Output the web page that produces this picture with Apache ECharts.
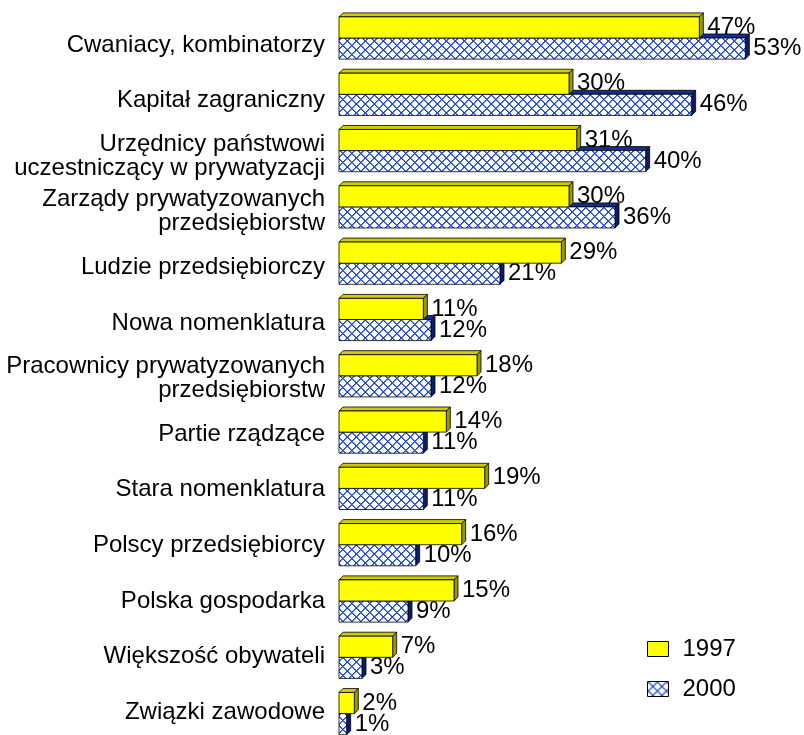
<!DOCTYPE html>
<html>
<head>
<meta charset="utf-8">
<script src="https://cdn.jsdelivr.net/npm/echarts@6/dist/echarts.min.js"></script>
<style>
html,body{margin:0;padding:0;background:#fff;}
#chart{width:804px;height:735px;}
</style>
</head>
<body>
<div id="chart"></div>
<script>
const categories = [
  'Cwaniacy, kombinatorzy',
  'Kapitał zagraniczny',
  'Urzędnicy państwowi\nuczestniczący w prywatyzacji',
  'Zarządy prywatyzowanych\nprzedsiębiorstw',
  'Ludzie przedsiębiorczy',
  'Nowa nomenklatura',
  'Pracownicy prywatyzowanych\nprzedsiębiorstw',
  'Partie rządzące',
  'Stara nomenklatura',
  'Polscy przedsiębiorcy',
  'Polska gospodarka',
  'Większość obywateli',
  'Związki zawodowe'
];
const seriesNames = ['1997', '2000'];
const values1997 = [47, 30, 31, 30, 29, 11, 18, 14, 19, 16, 15, 7, 2];
const values2000 = [53, 46, 40, 36, 21, 12, 12, 11, 11, 10, 9, 3, 1];

const FONT = '"Liberation Sans", Arial, sans-serif';
const FS = 24;

// crisp crosshatch pattern (pixel based)
function makePattern() {
  const N = 9;
  const c = document.createElement('canvas');
  c.width = N; c.height = N;
  const g = c.getContext('2d');
  g.fillStyle = '#ffffff';
  g.fillRect(0, 0, N, N);
  for (let y = 0; y < N; y++) {
    for (let x = 0; x < N; x++) {
      const a = ((x - y) % N + N) % N;
      const b = (x + y) % N;
      if (a === 0 || b === 0) {
        g.fillStyle = '#1a46d6';
        g.fillRect(x, y, 1, 1);
      } else if (a === 1 || b === 1) {
        g.fillStyle = 'rgba(26,70,214,0.7)';
        g.fillRect(x, y, 1, 1);
      }
    }
  }
  return c;
}
const hatch = { image: makePattern(), repeat: 'repeat' };

function makeRender(side, faceFill, topFill, sideFill) {
  return function (params, api) {
    const v = api.value(0), c = api.value(1);
    const p0 = api.coord([0, c]);
    const p1 = api.coord([v, c]);
    const band = api.size([0, 1])[1];
    const h = band * 0.375;
    const yc = p0[1];
    const y = side === 0 ? yc - h : yc;
    const x0 = p0[0], x1 = p1[0], d = 4;
    return {
      type: 'group',
      children: [
        { type: 'polygon', shape: { points: [[x0, y], [x0 + d, y - d], [x1 + d, y - d], [x1, y]] },
          style: { fill: topFill, stroke: '#000', lineWidth: 0.8 } },
        { type: 'polygon', shape: { points: [[x1, y], [x1 + d, y - d], [x1 + d, y + h - d], [x1, y + h]] },
          style: { fill: sideFill, stroke: '#000', lineWidth: 0.8 } },
        { type: 'rect', shape: { x: x0, y: y, width: x1 - x0, height: h },
          style: { fill: faceFill, stroke: '#000', lineWidth: 0.8 } },
        { type: 'text', style: { text: v + '%', x: x1 + 8, y: y + h / 2, fill: '#000',
          fontSize: FS, fontFamily: FONT, align: 'left', verticalAlign: 'middle' } }
      ]
    };
  };
}

const chart = echarts.init(document.getElementById('chart'), null, { renderer: 'canvas' });
chart.setOption({
  backgroundColor: '#ffffff',
  animation: false,
  grid: [
    { left: 339, top: 9.85, height: 731.9, width: 460, outerBoundsMode: 'none', containLabel: false },
    { left: 339, top: 17.2, height: 722.8, width: 460, outerBoundsMode: 'none', containLabel: false }
  ],
  xAxis: [
    { gridIndex: 0, type: 'value', min: 0, max: 60, show: false },
    { gridIndex: 1, type: 'value', min: 0, max: 60, show: false }
  ],
  yAxis: [
    { gridIndex: 0, type: 'category', inverse: true, data: categories, show: false },
    { gridIndex: 1, type: 'category', inverse: true, data: categories,
      axisLine: { show: false }, axisTick: { show: false }, splitLine: { show: false },
      axisLabel: { margin: 14, color: '#000', fontSize: FS, fontFamily: FONT, lineHeight: 24, align: 'right' } }
  ],
  legend: {
    orient: 'vertical',
    left: 647, top: 637, padding: 0,
    itemWidth: 21, itemHeight: 15, itemGap: 16,
    selectedMode: false,
    textStyle: { color: '#000', fontSize: FS, fontFamily: FONT, lineHeight: 24, padding: [0, 0, 0, 9] },
    data: [
      { name: '1997', icon: 'rect', itemStyle: { color: '#FFFF00', borderColor: '#000', borderWidth: 1 } },
      { name: '2000', icon: 'rect', itemStyle: { color: hatch, borderColor: '#000', borderWidth: 1 } }
    ]
  },
  series: [
    { name: seriesNames[1], type: 'custom', xAxisIndex: 0, yAxisIndex: 0, clip: false,
      itemStyle: { color: hatch },
      renderItem: makeRender(1, hatch, '#112e90', '#0a1d70'),
      encode: { x: 0, y: 1 },
      data: values2000.map((v, i) => [v, i]) },
    { name: seriesNames[0], type: 'custom', xAxisIndex: 0, yAxisIndex: 0, clip: false,
      itemStyle: { color: '#FFFF00' },
      renderItem: makeRender(0, '#FFFF00', '#cccc00', '#999900'),
      encode: { x: 0, y: 1 },
      data: values1997.map((v, i) => [v, i]) }
  ]
});
</script>
</body>
</html>
